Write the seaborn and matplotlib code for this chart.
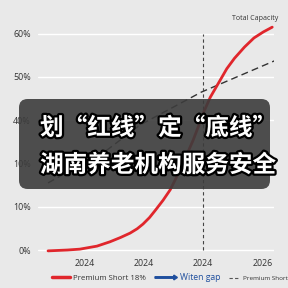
import matplotlib
matplotlib.use("Agg")
import numpy as np
import pandas as pd
import matplotlib.pyplot as plt
import seaborn as sns
from matplotlib.lines import Line2D
import matplotlib.patches as mpatches
from matplotlib.legend_handler import HandlerPatch
import matplotlib.patheffects as pe

# ---- data ----
x_ticks = [0, 1, 2, 3]
x_tick_labels = ["2024", "2024", "2024", "2026"]
y_ticks = [0, 10, 20, 30, 40, 50]
y_tick_labels = ["0%", "10%", "10%", "40%", "50%", "60%"]

premium_x = [-0.63, -0.30, -0.09, 0.20, 0.42, 0.60, 0.76, 0.88, 0.98, 1.09, 1.19, 1.32, 1.44,
             1.55, 1.66, 1.75, 1.83, 1.92, 2.0, 2.12, 2.29, 2.40, 2.53, 2.70, 2.86, 3.02, 3.17]
premium_y = [-0.2, 0.0, 0.2, 0.9, 1.9, 2.9, 3.9, 4.9, 6.0, 7.5, 9.2, 11.5, 13.9,
             16.9, 20.1, 22.9, 25.4, 28.6, 31.6, 35.3, 39.3, 41.9, 44.3, 46.9, 49.0, 50.4, 51.5]

shortage_x = [-0.63, 0.37, 0.93, 1.97, 3.24]
shortage_y = [15.5, 23.1, 28.9, 36.5, 43.9]

gap_year = 2

title_text = "Total Capacity"
legend_labels = ["Premium Short 18%", "Witen gap", "Premium Shortap"]
overlay_lines = ["划“红线”定“底线”", "湖南养老机构服务安全"]

BG = "#e9e9e9"
RED = "#e0262c"
BLUE = "#1f4f9e"

sns.set_theme(style="whitegrid")
plt.rcParams["font.family"] = ["Open Sans", "DejaVu Sans"]

fig = plt.figure(figsize=(2.88, 2.88), dpi=100, facecolor=BG)
ax = fig.add_axes([38 / 288, 1 - 256.5 / 288, 236 / 288, 244.5 / 288])
ax.set_facecolor(BG)

df_p = pd.DataFrame({"x": premium_x, "y": premium_y})
df_s = pd.DataFrame({"x": shortage_x, "y": shortage_y})
sns.lineplot(data=df_p, x="x", y="y", color=RED, lw=2.0, ax=ax, sort=False, zorder=3)
sns.lineplot(data=df_s, x="x", y="y", color="#333333", lw=1.0, ax=ax, sort=False,
             linestyle=(0, (5, 3)), zorder=2)
ax.vlines(gap_year, 0, 50, colors="#444444", lw=0.8, linestyles=(0, (3, 2.5)), zorder=2)

ax.set_xlim(-0.8, 3.2)
ax.set_ylim(-1.5, 55)
ax.set_xticks(x_ticks)
ax.set_xticklabels(x_tick_labels)
ax.set_yticks(y_ticks)
ax.set_yticklabels(y_tick_labels)
ax.set_xlabel("")
ax.set_ylabel("")
ax.grid(axis="y", color="white", lw=1.0)
ax.grid(axis="x", visible=False)
ax.tick_params(axis="both", length=0, labelsize=6.4, colors="#333333")
ax.tick_params(axis="y", pad=5)
ax.tick_params(axis="x", pad=1.5)
for s in ax.spines.values():
    s.set_visible(False)

ax.text((278 - 38) / 236, (256.5 - 18) / 244.5, title_text, transform=ax.transAxes,
        ha="right", va="center", fontsize=5, color="#333333")

# ---- legends ----
def make_arrow(legend, orig_handle, xdescent, ydescent, width, height, fontsize):
    return mpatches.FancyArrow(0, height / 2, width, 0, width=height * 0.25,
                               head_width=height * 0.8, head_length=height * 0.6,
                               length_includes_head=True, color=BLUE)

leg_y = 1 - 278 / 288
l1 = fig.legend([Line2D([], [], color=RED, lw=2.5)], [legend_labels[0]],
                loc="center left", bbox_to_anchor=(52 / 288, leg_y), frameon=False,
                borderpad=0, borderaxespad=0, handlelength=2.3, handletextpad=0.3,
                fontsize=5.7)
for t in l1.get_texts():
    t.set_color("#333333")
arrow_handle = mpatches.Patch(color=BLUE)
l2 = fig.legend([arrow_handle], [legend_labels[1]],
                loc="center left", bbox_to_anchor=(155 / 288, leg_y), frameon=False,
                borderpad=0, borderaxespad=0, handlelength=2.6, handletextpad=0.3,
                fontsize=6.2, handler_map={mpatches.Patch: HandlerPatch(patch_func=make_arrow)})
for t in l2.get_texts():
    t.set_color(BLUE)
l3 = fig.legend([Line2D([], [], color="#555555", lw=0.8, ls=(0, (3, 2)))], [legend_labels[2]],
                loc="center left", bbox_to_anchor=(229 / 288, leg_y), frameon=False,
                borderpad=0, borderaxespad=0, handlelength=1.7, handletextpad=0.5,
                fontsize=4.6)
for t in l3.get_texts():
    t.set_color("#333333")

# ---- overlay banner ----
box = mpatches.FancyBboxPatch((19 / 288, 1 - 189 / 288), 251 / 288, 90 / 288,
                              boxstyle="round,pad=0,rounding_size=0.03",
                              transform=fig.transFigure, facecolor="#3c3c3c",
                              edgecolor="none", alpha=0.9, zorder=5)
fig.add_artist(box)
stroke = [pe.withStroke(linewidth=3.2, foreground="black")]
for txt, yc in zip(overlay_lines, [128, 165]):
    fig.text(40 / 288, 1 - yc / 288, txt, ha="left", va="center", fontsize=17,
             fontweight="bold", color="white",
             family=["Noto Sans CJK SC", "DejaVu Sans"], path_effects=stroke, zorder=6)

fig.savefig("out.png", dpi=100, facecolor=BG)
